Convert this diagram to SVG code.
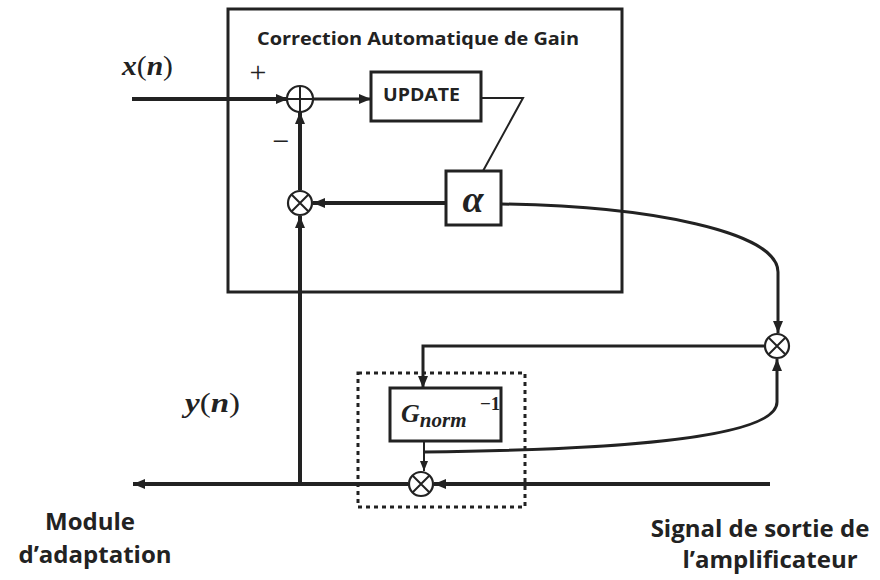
<svg xmlns="http://www.w3.org/2000/svg" width="880" height="580" viewBox="0 0 880 580">
<defs>
<style>
.box{fill:#fff;stroke:#222;stroke-width:3}
.thin{fill:none;stroke:#222;stroke-width:2}
.thick{fill:none;stroke:#222;stroke-width:4}
.med{fill:none;stroke:#222;stroke-width:3}
.circ{fill:#fff;stroke:#222;stroke-width:2.2}
.lbl{font-family:"Open Sans","Liberation Sans",sans-serif;font-weight:bold;fill:#222}
.math{font-family:"Liberation Serif",serif;font-weight:bold;font-style:italic;fill:#222}
.mathr{font-family:"Liberation Serif",serif;font-weight:normal;font-style:normal;fill:#222}
</style>
<marker id="ah" viewBox="0 0 12 10" refX="12" refY="5" markerWidth="12" markerHeight="10" markerUnits="userSpaceOnUse" orient="auto">
<path d="M0,0 L12,5 L0,10 z" fill="#222"/>
</marker>
<marker id="ahs" viewBox="0 0 10 8" refX="10" refY="4" markerWidth="10" markerHeight="8" markerUnits="userSpaceOnUse" orient="auto">
<path d="M0,0 L10,4 L0,8 z" fill="#222"/>
</marker>
</defs>

<g id="cag">
<rect x="228" y="9" width="394" height="283" fill="none" stroke="#222" stroke-width="3"/>
<text class="lbl" x="257" y="45" font-size="17.5" textLength="322" lengthAdjust="spacingAndGlyphs">Correction Automatique de Gain</text>
</g>

<g id="connectors">
<line class="thick" x1="132" y1="99" x2="288" y2="99" marker-end="url(#ah)"/>
<line class="med" x1="313" y1="99" x2="371" y2="99" marker-end="url(#ah)"/>
<polyline class="thin" points="481,98 523,98 483,171"/>
<line class="thick" x1="446" y1="203" x2="313" y2="203" marker-end="url(#ah)"/>
<line class="thick" x1="300" y1="190" x2="300" y2="112" marker-end="url(#ah)"/>
<line class="thick" x1="300" y1="484" x2="300" y2="216" marker-end="url(#ah)"/>
<line class="thick" x1="770" y1="484" x2="434" y2="484" marker-end="url(#ah)"/>
<line class="thick" x1="408" y1="484" x2="133" y2="484" marker-end="url(#ah)"/>
<path class="med" d="M501,204 C650,206 778,232 778,272 L778,333" marker-end="url(#ah)"/>
<path class="med" d="M424,452 C600,450 777,440 777,402 L777,359" marker-end="url(#ah)"/>
<polyline class="med" points="764,346 423,346 423,388" marker-end="url(#ah)"/>
<line class="thin" x1="424" y1="441" x2="424" y2="471" marker-end="url(#ahs)"/>
</g>

<g id="sum">
<circle class="circ" cx="300" cy="99" r="13"/>
<path class="thin" d="M287,99 H313 M300,86 V112"/>
</g>
<text class="mathr" x="258" y="82" font-size="30" text-anchor="middle">+</text>
<text class="mathr" x="281" y="151" font-size="30" text-anchor="middle">−</text>

<g id="update">
<rect class="box" x="371" y="72" width="110" height="49"/>
<text class="lbl" x="383" y="101" font-size="17" textLength="77" lengthAdjust="spacingAndGlyphs">UPDATE</text>
</g>

<g id="alpha">
<rect class="box" x="446" y="171" width="55" height="54"/>
<text class="math" x="473" y="212" font-size="38" text-anchor="middle">α</text>
</g>

<g id="mult1">
<circle class="circ" cx="300" cy="203" r="12"/>
<path class="thin" d="M291.5,194.5 L308.5,211.5 M308.5,194.5 L291.5,211.5"/>
</g>

<g id="mult2">
<circle class="circ" cx="777" cy="346" r="12"/>
<path class="thin" d="M768.5,337.5 L785.5,354.5 M785.5,337.5 L768.5,354.5"/>
</g>

<g id="dotted">
<rect x="358" y="373" width="167" height="134" fill="none" stroke="#222" stroke-width="3" stroke-dasharray="4,4"/>
</g>

<g id="gnorm">
<rect class="box" x="390" y="388" width="111" height="53"/>
<text class="math" x="401" y="422" font-size="26">G<tspan font-size="21" dy="5">norm</tspan></text>
<text class="mathr" x="480" y="410" font-size="19" style="font-weight:bold">−1</text>
</g>

<g id="mult3">
<circle class="circ" cx="421" cy="484" r="12"/>
<path class="thin" d="M412.5,475.5 L429.5,492.5 M429.5,475.5 L412.5,492.5"/>
</g>

<g id="labels">
<text class="math" x="122" y="75" font-size="28" textLength="51" lengthAdjust="spacingAndGlyphs">x<tspan class="mathr">(</tspan>n<tspan class="mathr">)</tspan></text>
<text class="math" x="185" y="412" font-size="28" textLength="55" lengthAdjust="spacingAndGlyphs">y<tspan class="mathr">(</tspan>n<tspan class="mathr">)</tspan></text>
<text class="lbl" x="90" y="530" font-size="24" text-anchor="middle">Module</text>
<text class="lbl" x="95" y="563" font-size="24" text-anchor="middle">d’adaptation</text>
<text class="lbl" x="760" y="537" font-size="24" text-anchor="middle">Signal de sortie de</text>
<text class="lbl" x="770" y="568" font-size="24" text-anchor="middle">l’amplificateur</text>
</g>
</svg>
